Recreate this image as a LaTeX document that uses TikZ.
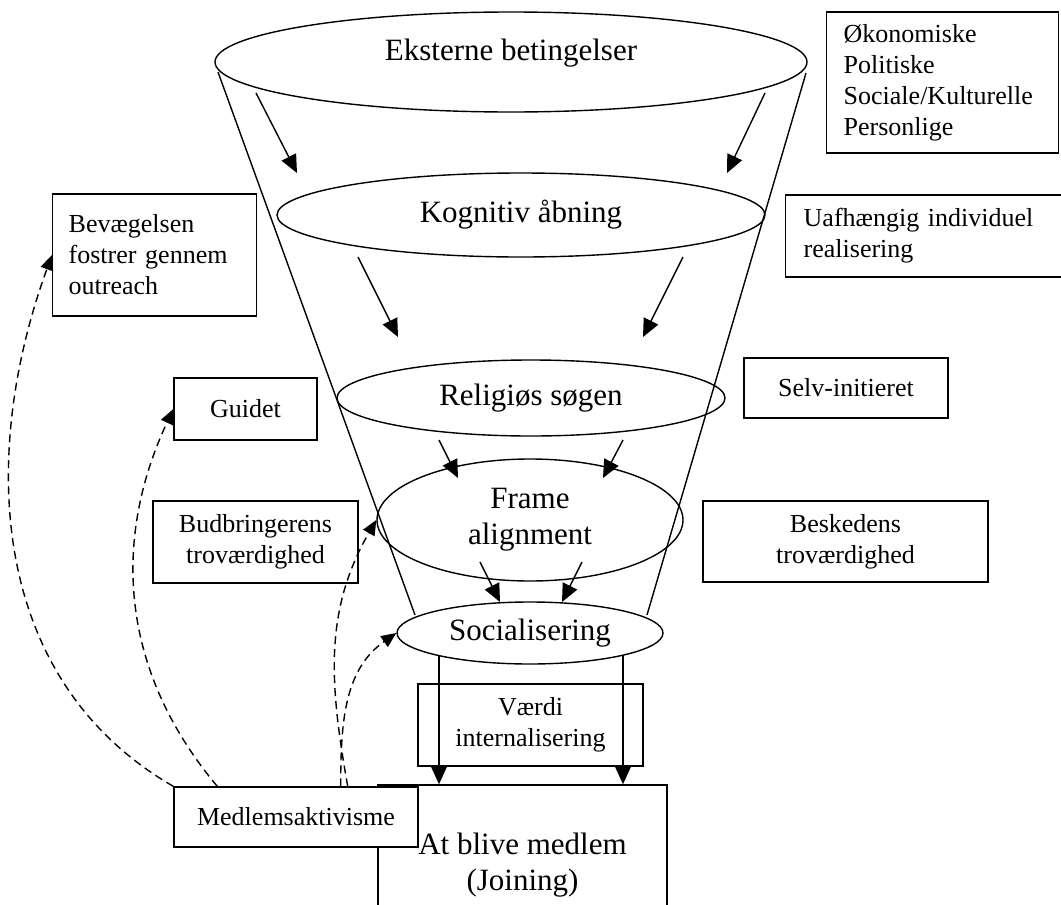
\documentclass[tikz,border=0pt]{standalone}
\usepackage{fontspec}
\setmainfont{Liberation Serif}
\usetikzlibrary{shapes.geometric}
\usetikzlibrary{arrows.meta}

\begin{document}
\begin{tikzpicture}[x=0.5pt,y=0.5pt,line width=0.7pt,>={Triangle[length=9pt,width=8pt]},
        stage/.style={draw,ellipse,inner sep=0pt,align=center,font=\fontsize{15.5}{18}\selectfont},
        box/.style={draw,rectangle,inner sep=0pt,align=center,font=\fontsize{13}{15.5}\selectfont},
        lbox/.style={box,align=left,anchor=west},
        link/.style={->,dash pattern=on 4pt off 2.5pt,>={Triangle[length=7.5pt,width=6.5pt]}}]
        \useasboundingbox (0,0) rectangle (1061,-905);
        \clip (0,0) rectangle (1061,-905);

        \node[stage,minimum width=296pt,minimum height=50pt,text depth=12pt] (eksterne) at (511,-62) {Eksterne betingelser};
        \node[stage,minimum width=244pt,minimum height=42pt] (kognitiv) at (521,-215) {Kognitiv åbning};
        \node[stage,minimum width=194pt,minimum height=38pt] (soegen) at (531,-398) {Religiøs søgen};
        \node[stage,minimum width=153pt,minimum height=61pt] (frame) at (530,-520) {Frame\\alignment};
        \node[stage,minimum width=133pt,minimum height=31pt] (social) at (530,-633) {Socialisering};

        \node[lbox,text width=99pt,inner xsep=8.5pt,minimum height=70.5pt] (oekon) at (826,-82.5) {Økonomiske\\Politiske\\Sociale/Kulturelle\\Personlige};
        \node[lbox,text width=120pt,inner xsep=9pt,minimum height=41pt] (uafh) at (785,-236) {Uafhængig individuel\\realisering};
        \node[lbox,text width=86pt,inner xsep=8pt,minimum height=61pt] (bevaeg) at (52,-255) {Bevægelsen\\fostrer gennem\\outreach};
        \node[box,minimum width=71.5pt,minimum height=31pt] (guidet) at (245.5,-409) {Guidet};
        \node[box,minimum width=102.5pt,minimum height=41pt] (budbr) at (255.5,-542) {Budbringerens\\troværdighed};
        \node[box,minimum width=102pt,minimum height=30pt] (selv) at (846,-388) {Selv-initieret};
        \node[box,minimum width=142.5pt,minimum height=40.5pt] (besked) at (845.5,-541.5) {Beskedens\\troværdighed};
        \node[box,minimum width=112.5pt,minimum height=41pt] (vaerdi) at (530.5,-725) {Værdi\\internalisering};
        \node[box,minimum width=144.5pt,minimum height=80pt,font=\fontsize{15.5}{18}\selectfont] (joining) at (522.5,-865) {At blive medlem\\(Joining)};
        \node[box,fill=white,minimum width=122pt,minimum height=30pt] (medlem) at (296,-817) {Medlemsaktivisme};

        % funnel
        \draw ([shift={(-293,-10)}]eksterne.center) -- ([shift={(-115,18)}]social.center);
        \draw ([shift={(295,-11)}]eksterne.center) -- ([shift={(117,18)}]social.center);

        \draw[->] ([shift={(-255,-31)}]eksterne.center) -- ([shift={(-224,42)}]kognitiv.center);
        \draw[->] ([shift={(254,-31)}]eksterne.center) -- ([shift={(206,42)}]kognitiv.center);
        \draw[->] ([shift={(-163,-42)}]kognitiv.center) -- ([shift={(-133,61)}]soegen.center);
        \draw[->] ([shift={(162,-42)}]kognitiv.center) -- ([shift={(112,61)}]soegen.center);
        \draw[->] ([shift={(-92,-42)}]soegen.center) -- ([shift={(-72,42)}]frame.center);
        \draw[->] ([shift={(92,-42)}]soegen.center) -- ([shift={(73,42)}]frame.center);
        \draw[->] ([shift={(-50,-42)}]frame.center) -- ([shift={(-30,31)}]social.center);
        \draw[->] ([shift={(52,-42)}]frame.center) -- ([shift={(32,31)}]social.center);

        \coordinate (v1) at ([shift={(-91,-22)}]social.center);
        \coordinate (v2) at ([shift={(93,-22)}]social.center);
        \draw[->] (v1) -- (v1 |- joining.north);
        \draw[->] (v2) -- (v2 |- joining.north);

        % member activism
        \draw[link] (medlem.north west) to[out=150,in=250] (bevaeg.west);
        \draw[link] ([xshift=22pt]medlem.north west) to[out=130,in=245] (guidet.west);
        \draw[link] ([xshift=-35.5pt]medlem.north east) to[out=100,in=240] (frame.west);
        \draw[link] ([xshift=-39pt]medlem.north east) to[out=90,in=215] (social.west);
\end{tikzpicture}
\end{document}
